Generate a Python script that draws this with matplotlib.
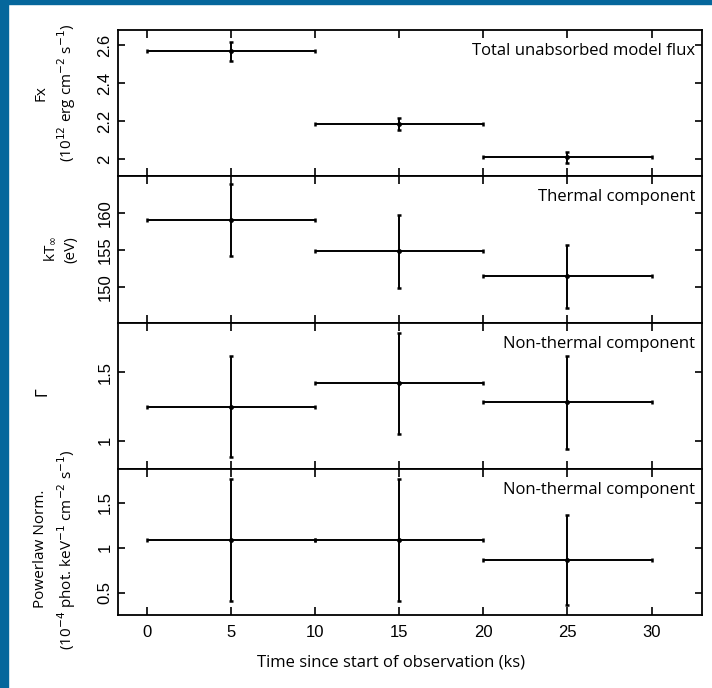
import matplotlib.pyplot as plt
from matplotlib.patches import Rectangle

# dados
tempo = [5, 15, 25]
largura = [5, 5, 5]

fluxo = [2.567, 2.185, 2.01]
fluxo_err = [0.05, 0.033, 0.03]

kt = [159.0, 154.8, 151.4]
kt_err = [4.8, 4.9, 4.2]

gama = [1.25, 1.42, 1.28]
gama_err = [0.37, 0.37, 0.34]

norma = [1.09, 1.09, 0.86]
norma_err = [0.68, 0.68, 0.5]

paineis = [
    (fluxo, fluxo_err, (1.91, 2.68), [2, 2.2, 2.4, 2.6], ['2', '2.2', '2.4', '2.6'],
     'Fx\n(10$^{12}$ erg cm$^{-2}$ s$^{-1}$)', 'Total unabsorbed model flux', (-0.068, 0.57)),
    (kt, kt_err, (145.2, 164.9), [150, 155, 160], ['150', '155', '160'],
     'kT$_{\\infty}$\n(eV)', 'Thermal component', (-0.068, 0.5)),
    (gama, gama_err, (0.795, 1.864), [1, 1.5], ['1', '1.5'],
     '$\\Gamma$', 'Non-thermal component', (-0.113, 0.52)),
    (norma, norma_err, (0.25, 1.88), [0.5, 1, 1.5], ['0.5', '1', '1.5'],
     'Powerlaw Norm.\n(10$^{-4}$ phot. keV$^{-1}$ cm$^{-2}$ s$^{-1}$)', 'Non-thermal component', (-0.068, 0.45)),
]

fig = plt.figure(figsize=(7.12, 6.88), dpi=100)

# moldura azul
fig.patches.append(Rectangle((0, 0), 8 / 712, 1, transform=fig.transFigure, color='#05679c', zorder=0))
fig.patches.append(Rectangle((0, 1 - 4 / 688), 1, 4 / 688, transform=fig.transFigure, color='#05679c', zorder=0))

esq, larg = 118 / 712, 584 / 712
base, alt = 1 - 615 / 688, (615 - 30) / 688 / 4

for i, (y, yerr, ylim, yticks, ylabs, ylabel, titulo, lpos) in enumerate(paineis):
    ax = fig.add_axes([esq, base + (3 - i) * alt, larg, alt])
    ax.errorbar(tempo, y, xerr=largura, yerr=yerr, fmt='none', ecolor='black',
                elinewidth=1.4, capsize=1.5, capthick=1.8)
    ax.plot(tempo, y, 'o', color='black', ms=2.5)
    ax.set_xlim(-1.7, 33)
    ax.set_ylim(*ylim)
    ax.set_xticks([0, 5, 10, 15, 20, 25, 30])
    ax.set_yticks(yticks)
    ax.set_yticklabels(ylabs, rotation=90, va='center', fontfamily='Liberation Sans', fontsize=12)
    ax.tick_params(direction='in', top=True, right=True, length=5, width=1.2, pad=4)
    ax.tick_params(axis='x', length=6, pad=7)
    for s in ax.spines.values():
        s.set_linewidth(1.3)
    ax.set_ylabel(ylabel, fontfamily='Open Sans', fontsize=11, linespacing=1.45)
    ax.yaxis.set_label_coords(*lpos)
    ax.text(0.988, 0.91, titulo, transform=ax.transAxes, ha='right', va='top',
            fontfamily='Open Sans', fontsize=12)
    if i < 3:
        ax.set_xticklabels([])
    else:
        ax.set_xticklabels(['0', '5', '10', '15', '20', '25', '30'],
                           fontfamily='Liberation Sans', fontsize=12)
        ax.set_xlabel('Time since start of observation (ks)', fontfamily='Open Sans', fontsize=12)
        ax.xaxis.set_label_coords(0.467, -0.27)

plt.savefig('out.png', dpi=100)
plt.close()
